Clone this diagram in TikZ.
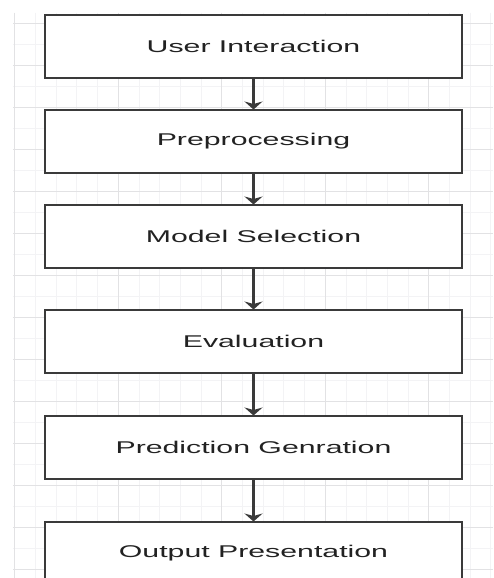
\documentclass[tikz,border=0pt]{standalone}
\usepackage{fontspec}
\setmainfont{Liberation Sans}
\usetikzlibrary{arrows.meta}
\definecolor{gridminor}{HTML}{F3F3F5}
\definecolor{gridmajor}{HTML}{E2E2E4}
\definecolor{boxline}{HTML}{3A3A3A}
\definecolor{txt}{HTML}{222222}
\tikzset{
  stepbox/.style={draw=boxline, line width=1.8pt, fill=white, minimum width=417pt, minimum height=63pt, inner sep=0pt, outer sep=0pt, text=txt},
  flow/.style={draw=boxline, line width=2.6pt, -{Stealth[length=8pt,width=18pt,inset=2.5pt]}, shorten <=0.9pt, shorten >=0.5pt},
}
\newcommand{\boxtext}[1]{\fontsize{17}{20}\selectfont\scalebox{1.78}[1]{#1}}
\begin{document}
\begin{tikzpicture}[x=1pt,y=-1pt]
\useasboundingbox (0,0) rectangle (493,578);
\clip (0,0) rectangle (493,578);
\fill[white] (0,0) rectangle (493,578);
% grid
\foreach \i in {0,...,23} {
  \draw[gridminor, line width=0.6pt] ({14.6+20.7*\i},13) -- ({14.6+20.7*\i},578);
}
\foreach \j in {0,...,27} {
  \draw[gridminor, line width=0.6pt] (13,{23+21*\j}) -- (493,{23+21*\j});
}
\foreach \j in {0,...,13} {
  \draw[gridmajor, line width=0.7pt] (13,{23+42*\j}) -- (493,{23+42*\j});
}
\foreach \i in {0,...,4} {
  \draw[gridmajor, line width=0.9pt] ({14.6+103.5*\i},13) -- ({14.6+103.5*\i},578);
}
% boxes
\node[stepbox] (b1) at (253.5,46.5) {\boxtext{User Interaction}};
\node[stepbox] (b2) at (253.5,141.5) {\boxtext{Preprocessing}};
\node[stepbox] (b3) at (253.5,236.5) {\boxtext{Model Selection}};
\node[stepbox] (b4) at (253.5,341.5) {\boxtext{Evaluation}};
\node[stepbox] (b5) at (253.5,447.5) {\boxtext{Prediction Genration}};
\node[stepbox] (b6) at (253.5,553.5) {\boxtext{Output Presentation}};
% arrows
\draw[flow] (b1.south) -- (b2.north);
\draw[flow] (b2.south) -- (b3.north);
\draw[flow] (b3.south) -- (b4.north);
\draw[flow] (b4.south) -- (b5.north);
\draw[flow] (b5.south) -- (b6.north);
\end{tikzpicture}
\end{document}
